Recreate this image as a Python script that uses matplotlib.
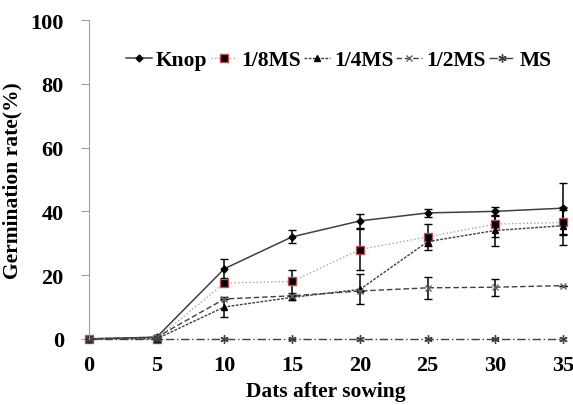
"""Germination rate over days after sowing for five media."""

import matplotlib.pyplot as plt

plt.rcParams["font.family"] = ["Liberation Serif", "DejaVu Serif"]
plt.rcParams["font.weight"] = "bold"

days = [0, 5, 10, 15, 20, 25, 30, 35]

knop = [0, 0.5, 22, 32, 37, 39.5, 40, 41]
knop_err = [0, 0.5, 3, 2, 2.2, 1.3, 1.4, 8]
ms8 = [0, 0, 17.5, 18, 28, 32, 36, 36.5]
ms8_err = [0, 0, 0, 3.7, 6.5, 4, 4, 4]
ms4 = [0, 0, 10, 13, 15.5, 30.5, 34, 35.5]
ms4_err = [0, 0, 3, 0.8, 4.7, 1.5, 5, 6]
ms2 = [0, 0.5, 12.5, 13.5, 15, 16, 16.2, 16.7]
ms2_err = [0, 0, 0, 0, 0, 3.4, 2.7, 0]
ms = [0, 0, 0, 0, 0, 0, 0, 0]

fig = plt.figure(figsize=(5.73, 4.06), dpi=100)
ax = fig.add_axes([0.155, 0.163, 0.828, 0.785])

common = {"capsize": 3, "elinewidth": 1.1, "capthick": 1.0, "ecolor": "black",
          "clip_on": False}
series = []
series.append(ax.errorbar(days, knop, yerr=knop_err, color="#404040", linestyle="-",
                          linewidth=1.1, marker="D", markersize=3.5,
                          markerfacecolor="black", markeredgecolor="black", **common))
series.append(ax.errorbar(days, ms8, yerr=ms8_err, color="#a6a6a6", linestyle=":",
                          linewidth=1.0, marker="s", markersize=6,
                          markerfacecolor="black", markeredgecolor="#c0504d",
                          markeredgewidth=1.0, **common))
series.append(ax.errorbar(days, ms4, yerr=ms4_err, color="#404040",
                          linestyle=(0, (2, 1)), linewidth=1.0, marker="^", markersize=5,
                          markerfacecolor="black", markeredgecolor="black", **common))
series.append(ax.errorbar(days, ms2, yerr=ms2_err, color="#404040",
                          linestyle=(0, (4, 2)), linewidth=1.0, marker="x", markersize=5,
                          markeredgecolor="#606060", **common))
series.append(ax.errorbar(days, ms, color="#404040", linestyle=(0, (6, 2, 1, 2)),
                          linewidth=1.0, marker=(6, 2, 0), markersize=6,
                          markeredgecolor="#404040", **common))
names = ["Knop", "1/8MS", "1/4MS", "1/2MS", "MS"]

ax.set_xlim(0, 35)
ax.set_ylim(0, 100)
ax.set_xticks(days)
ax.set_yticks([0, 20, 40, 60, 80, 100])
ax.tick_params(axis="x", length=0, labelsize=16, pad=12)
ax.tick_params(axis="y", length=6, direction="out", color="#a0a0a0", labelsize=16, pad=12)
for side in ["top", "right", "bottom"]:
    ax.spines[side].set_visible(False)
ax.spines["left"].set_color("#a0a0a0")
ax.spines["left"].set_bounds(0, 100)

ax.set_xlabel("Dats after sowing", fontsize=15.5, fontweight="bold", labelpad=4)
ax.set_ylabel("Germination rate(%)", fontsize=15.5, fontweight="bold", labelpad=6)

ax.legend([s[0] for s in series], names, loc="upper left", bbox_to_anchor=(0.078, 0.905),
          ncol=5, frameon=False, fontsize=15.5, handlelength=1.2, handletextpad=0.2,
          columnspacing=0.15, borderaxespad=0, borderpad=0)

fig.savefig("out.png", dpi=100)
